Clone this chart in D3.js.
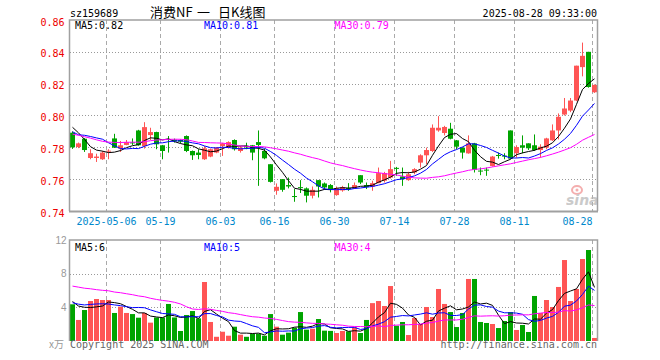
<!DOCTYPE html>
<html>
<head>
<meta charset="utf-8">
<script src="https://cdn.jsdelivr.net/npm/d3@7"></script>
<style>
body{margin:0;background:#fff}
svg{display:block}
.mono{font-family:"DejaVu Sans Mono",monospace;font-size:10px}
</style>
</head>
<body>
<svg id="kline" width="660" height="360"></svg>
<script>
// trading days shown, 2025
const dates = ["04-23","04-24","04-25","04-28","04-29","04-30",
  "05-06","05-07","05-08","05-09","05-12","05-13","05-14","05-15","05-16","05-19","05-20","05-21","05-22","05-23","05-26","05-27","05-28","05-29","05-30",
  "06-03","06-04","06-05","06-06","06-09","06-10","06-11","06-12","06-13","06-16","06-17","06-18","06-19","06-20","06-23","06-24","06-25","06-26","06-27","06-30",
  "07-01","07-02","07-03","07-04","07-07","07-08","07-09","07-10","07-11","07-14","07-15","07-16","07-17","07-18","07-21","07-22","07-23","07-24","07-25","07-28","07-29","07-30","07-31",
  "08-01","08-04","08-05","08-06","08-07","08-08","08-11","08-12","08-13","08-14","08-15","08-18","08-19","08-20","08-21","08-22","08-25","08-26","08-27","08-28"];

const open = [.7892,.7802,.7854,.7733,.7733,.7725,.7773,.7856,.7792,.7815,
  .7831,.7906,.7808,.7877,.7896,.7813,.7852,.7848,.7846,.7871,
  .7777,.7767,.7725,.7742,.7767,.7808,.7798,.7846,.7777,.7810,
  .7813,.7833,.7777,.7694,.7527,.7600,.7563,.7494,.7550,.7542,
  .7496,.7594,.7573,.7563,.7500,.7529,.7544,.7542,.7625,.7563,
  .7554,.7575,.7590,.7610,.7671,.7617,.7594,.7642,.7704,.7750,
  .7777,.7906,.7890,.7917,.7844,.7798,.7762,.7825,.7654,.7660,
  .7683,.7752,.7748,.7906,.7763,.7813,.7825,.7813,.7783,.7798,
  .7844,.7906,.8006,.8031,.8094,.8304,.8400,.8146];
const high = [.7900,.7830,.7858,.7788,.7760,.7777,.7788,.7885,.7840,.7846,
  .7856,.7910,.7958,.7923,.7898,.7815,.7871,.7855,.7850,.7875,
  .7780,.7788,.7808,.7792,.7802,.7828,.7838,.7850,.7808,.7829,
  .7815,.7906,.7792,.7694,.7573,.7600,.7610,.7538,.7594,.7548,
  .7554,.7594,.7579,.7569,.7554,.7558,.7575,.7579,.7625,.7579,
  .7590,.7673,.7646,.7715,.7677,.7673,.7646,.7669,.7756,.7798,
  .7944,.7996,.7935,.7954,.7846,.7800,.7875,.7828,.7673,.7673,
  .7746,.7767,.7763,.7906,.7813,.7875,.7825,.7881,.7819,.7860,
  .7944,.8013,.8110,.8110,.8313,.8458,.8400,.8195];
const low = [.7790,.7795,.7771,.7725,.7708,.7721,.7725,.7796,.7771,.7813,
  .7815,.7810,.7792,.7846,.7788,.7725,.7767,.7830,.7825,.7770,
  .7721,.7725,.7721,.7738,.7763,.7746,.7792,.7780,.7767,.7788,
  .7719,.7558,.7725,.7579,.7502,.7521,.7542,.7458,.7513,.7454,
  .7479,.7485,.7533,.7517,.7496,.7521,.7527,.7538,.7569,.7538,
  .7527,.7575,.7579,.7604,.7621,.7558,.7590,.7631,.7673,.7694,
  .7771,.7898,.7875,.7850,.7788,.7729,.7760,.7642,.7625,.7621,
  .7679,.7729,.7725,.7725,.7735,.7763,.7783,.7777,.7735,.7788,
  .7840,.7850,.8000,.8021,.8090,.8246,.8175,.8142];
const close = [.7800,.7825,.7783,.7763,.7742,.7767,.7779,.7798,.7813,.7833,
  .7829,.7813,.7927,.7896,.7819,.7777,.7850,.7838,.7835,.7777,
  .7750,.7752,.7794,.7788,.7798,.7825,.7833,.7788,.7798,.7800,
  .7767,.7815,.7731,.7583,.7552,.7533,.7554,.7492,.7548,.7496,
  .7533,.7554,.7548,.7538,.7542,.7550,.7542,.7563,.7579,.7550,
  .7575,.7638,.7638,.7663,.7669,.7600,.7631,.7663,.7750,.7783,
  .7923,.7923,.7928,.7854,.7804,.7767,.7825,.7658,.7652,.7658,
  .7742,.7750,.7746,.7729,.7802,.7798,.7794,.7783,.7804,.7856,
  .7906,.7992,.8044,.8094,.8313,.8375,.8179,.8192];
// volume, 万手
const volume = [4.36,2.5,3.68,4.75,4.99,4.87,4.87,3.33,4.08,3.33,
  3.2,2.77,3.33,2.18,2.8,2.8,4.4,2.8,1.19,3.09,
  3.56,2.69,7.01,2.26,0.5,1.1,0.63,1.7,0.75,0.5,
  0.87,0.87,0.63,3.2,1.7,0.75,0.99,1.58,3.44,1.35,
  1.46,2.61,1.23,1.2,0.95,1.19,1.15,1.62,0.95,2.5,
  4.5,4.75,4.16,6.53,1.82,2.26,0.71,2.73,2.02,4.04,
  2.85,6.18,4.4,3.44,1.66,3.33,7.37,7.37,2.26,2.14,
  2.02,1.54,2.38,3.44,1.31,1.9,1.07,5.35,3.33,4.87,
  4.04,6.42,9.62,4.75,6.18,9.74,10.81,0.36];
// sessions before the window, only used for the moving averages
const priorClose = [.803,.805,.804,.806,.805,.792,.786,.783,.779,.781,.782,.782,.772,.769,.772,
  .778,.781,.785,.786,.799,.802,.781,.784,.783,.785,.800,.799,.799,.785];
const priorVolume = [6.2,7.5,6.8,8.1,7.2,6.5,7.9,6.4,7.0,6.6,7.3,6.1,7.7,6.9,6.3,7.1,6.8,7.1,
  13.0,11.7,4.2,4.6,4.1,4.5,4.6,5.2,4.4,4.9,4.6];

const tickDates = ["05-06","05-19","06-03","06-16","06-30","07-14","07-28","08-11","08-28"];
const tickLabels = ["2025-05-06","05-19","06-03","06-16","06-30","07-14","07-28","08-11","08-28"];
const priceTicks = [0.74,0.76,0.78,0.80,0.82,0.84,0.86];
const volTicks = [4,8,12];
const priceLegend = ["MA5:0.82","MA10:0.81","MA30:0.79"];
const volLegend = ["MA5:6","MA10:5","MA30:4"];
const maDays = [5,10,30];
const titleParts = ["消费NF","一","日K线图"];

const RED = "#ff5555", GREEN = "#00a400", GRID = "#aaa";
const maColor = ["#000","#0000ff","#ff00ff"];

const svg = d3.select("#kline");

const x = d3.scaleBand().domain(dates).range([70, 597]).paddingInner(1/6).paddingOuter(0);
const yP = d3.scaleLinear().domain([0.74, 0.86]).range([211, 20]);
const yV = d3.scaleLinear().domain([0, 12]).range([341, 240]);
const bw = x.bandwidth();

const movingAvg = (arr, prior, n) => {
    const all = prior.concat(arr);
    return arr.map((_, i) => d3.mean(all.slice(prior.length + i - n + 1, prior.length + i + 1)));
};

const rows = dates.map((d, i) => ({date: d, o: open[i], h: high[i], l: low[i], c: close[i], v: volume[i]}));
const up = d => d.c >= d.o;

// grid
const grid = svg.append("g");
[[20, 211], [240, 341]].forEach(([t, b]) => {
    grid.selectAll(null).data(tickDates).enter().append("line")
        .attr("x1", d => x(d) + 0.5).attr("x2", d => x(d) + 0.5)
        .attr("y1", t).attr("y2", b)
        .attr("stroke", GRID).attr("stroke-dasharray", "4,3");
});
grid.selectAll(null).data(priceTicks.slice(1, -1)).enter().append("line")
    .attr("x1", 70).attr("x2", 597)
    .attr("y1", d => Math.round(yP(d)) + 0.5).attr("y2", d => Math.round(yP(d)) + 0.5)
    .attr("stroke", "#999").attr("stroke-dasharray", "1,2");
grid.selectAll(null).data(volTicks.slice(0, -1)).enter().append("line")
    .attr("x1", 70).attr("x2", 597)
    .attr("y1", d => Math.round(yV(d)) + 0.5).attr("y2", d => Math.round(yV(d)) + 0.5)
    .attr("stroke", "#999").attr("stroke-dasharray", "1,2");

// watermark
const logo = svg.append("g").attr("opacity", 0.7);
logo.append("ellipse").attr("cx", 577).attr("cy", 190).attr("rx", 5).attr("ry", 4)
    .attr("fill", "none").attr("stroke", "#f08c8c").attr("stroke-width", 2);
logo.append("circle").attr("cx", 577).attr("cy", 190).attr("r", 1.5).attr("fill", "#f08c8c");
logo.append("text").attr("x", 566).attr("y", 205)
    .style("font-family", "DejaVu Sans").style("font-size", "14px")
    .style("font-weight", "bold").style("font-style", "italic")
    .attr("fill", "#b4b4b4").text("sina");

// candles
const candles = svg.append("g").selectAll("g").data(rows).enter().append("g");
candles.append("line")
    .attr("x1", d => x(d.date) + 2.5).attr("x2", d => x(d.date) + 2.5)
    .attr("y1", d => yP(d.h)).attr("y2", d => yP(d.l))
    .attr("stroke", d => up(d) ? RED : GREEN);
candles.append("rect")
    .attr("x", d => x(d.date)).attr("width", bw)
    .attr("y", d => yP(Math.max(d.o, d.c)))
    .attr("height", d => Math.max(1, Math.abs(yP(d.o) - yP(d.c))))
    .attr("fill", d => up(d) ? RED : GREEN);

// volume bars
svg.append("g").selectAll("rect").data(rows).enter().append("rect")
    .attr("x", d => x(d.date)).attr("width", bw)
    .attr("y", d => yV(d.v)).attr("height", d => yV(0) - yV(d.v))
    .attr("fill", d => up(d) ? RED : GREEN);

// moving averages
const cx = d => x(d) + 2.5;
maDays.forEach((n, k) => {
    const pm = movingAvg(close, priorClose, n);
    const vm = movingAvg(volume, priorVolume, n);
    svg.append("path")
        .attr("d", d3.line().x((v, i) => cx(dates[i])).y(v => yP(v))(pm))
        .attr("fill", "none").attr("stroke", maColor[k]).attr("stroke-width", 1);
    svg.append("path")
        .attr("d", d3.line().x((v, i) => cx(dates[i])).y(v => yV(v))(vm))
        .attr("fill", "none").attr("stroke", maColor[k]).attr("stroke-width", 1);
});

// frames
const frame = svg.append("g").attr("stroke", "#a0a0a0").attr("fill", "none");
frame.append("path").attr("d", "M69.5,211V20H597.5V211").attr("stroke-width", 1.5);
frame.append("line").attr("x1", 69).attr("x2", 598).attr("y1", 211.5).attr("y2", 211.5).attr("stroke-width", 2);
frame.append("path").attr("d", "M69.5,341V240H597.5V341").attr("stroke-width", 1.5);

// axis labels
svg.append("g").selectAll("text").data(priceTicks).enter().append("text")
    .attr("class", "mono").attr("x", 64.5).attr("y", d => yP(d) + 5.5)
    .attr("text-anchor", "end").attr("fill", "#ee0000")
    .text(d => d.toFixed(2));
svg.append("g").selectAll("text").data(volTicks).enter().append("text")
    .attr("x", 66.5).attr("y", d => yV(d) + 3.6)
    .attr("text-anchor", "end").attr("fill", "#999")
    .style("font-family", "Liberation Sans").style("font-size", "10px")
    .text(d => d);
svg.append("text").attr("x", 64).attr("y", 348).attr("text-anchor", "end")
    .attr("fill", "#999").style("font-family", "Noto Sans CJK SC").style("font-size", "10px")
    .text("x万");

svg.append("g").selectAll("text").data(tickDates).enter().append("text")
    .attr("class", "mono").attr("y", 225)
    .attr("x", d => x(d) + 0.5)
    .attr("text-anchor", (d, i) => i === tickDates.length - 1 ? "end" : "middle")
    .attr("fill", "#0088cc")
    .text((d, i) => tickLabels[i]);

// legends
const legendX = [75, 204, 334.5];
priceLegend.forEach((t, k) => {
    svg.append("text").attr("class", "mono").attr("x", legendX[k]).attr("y", 29.3)
        .attr("fill", maColor[k]).text(t);
});
volLegend.forEach((t, k) => {
    svg.append("text").attr("class", "mono").attr("x", legendX[k]).attr("y", 250.5)
        .attr("fill", maColor[k]).text(t);
});

// header and footer
svg.append("text").attr("class", "mono").attr("x", 70).attr("y", 16.5).attr("fill", "#000").text("sz159689");
const titleX = [150, 197, 218];
titleParts.forEach((t, k) => {
    svg.append("text").attr("x", titleX[k]).attr("y", 17).attr("fill", "#000")
        .style("font-family", "Noto Sans CJK SC").style("font-size", "13px")
        .text(t);
});
svg.append("text").attr("class", "mono").attr("x", 597).attr("y", 16.5)
    .attr("text-anchor", "end").attr("fill", "#000").text("2025-08-28 09:33:00");
svg.append("text").attr("class", "mono").attr("x", 70).attr("y", 348)
    .attr("fill", "#666").text("Copyright 2025 SINA.COM");
svg.append("text").attr("class", "mono").attr("x", 597).attr("y", 348)
    .attr("text-anchor", "end").attr("fill", "#666").text("http://finance.sina.com.cn");
</script>
</body>
</html>
